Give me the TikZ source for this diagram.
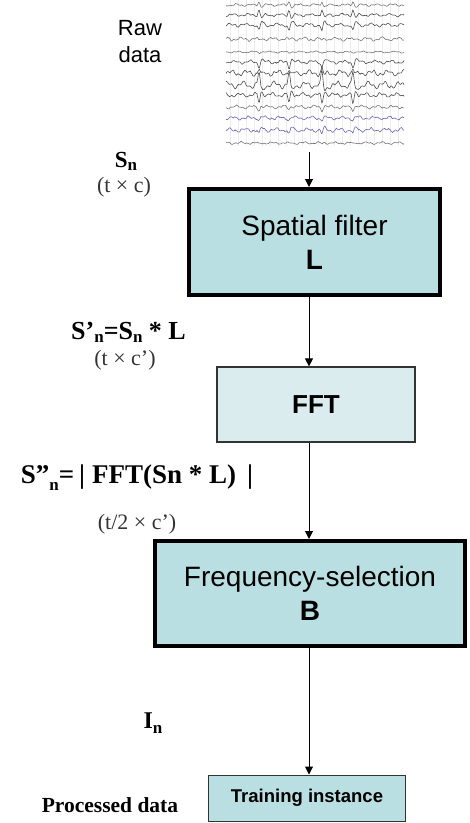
\documentclass[tikz,border=0pt]{standalone}
\usepackage{fontspec}
\setmainfont{Liberation Serif}
\setsansfont{Liberation Sans}
\usetikzlibrary{arrows.meta}

\definecolor{boxfill}{HTML}{B9DFE2}
\definecolor{boxlight}{HTML}{DAECEE}
\definecolor{eeggray}{HTML}{767676}
\definecolor{eegdark}{HTML}{4E4E4E}
\definecolor{eegblue}{RGB}{105,105,190}
\definecolor{dimtext}{HTML}{333333}

% lowered subscript used in the formula labels
\newcommand\lowsub[2][5pt]{\raisebox{-#1}{\fontsize{17}{17}\selectfont #2}}

\begin{document}
\begin{tikzpicture}[x=1pt,y=-1pt,
  declare function={pk(\q)=max(0,1-abs(\q)/2)-0.45*max(0,1-abs(\q-3)/3);
                     spikes(\q)=pk(\q-259)+pk(\q-289)+pk(\q-322)+pk(\q-353);},
  thickbox/.style={draw=black,line width=4pt,fill=boxfill,inner sep=0pt,
                   font=\sffamily\fontsize{28}{34}\selectfont,align=center},
  thinbox/.style={draw=dimtext,line width=1.2pt,inner sep=0pt,align=center},
  flow/.style={draw=black,line width=1pt,-{Triangle[length=8pt,width=8pt]}},
  formula/.style={anchor=base,inner sep=0pt,font=\bfseries\fontsize{26}{30}\selectfont},
  dims/.style={anchor=base,inner sep=0pt,text=dimtext,font=\fontsize{22}{26}\selectfont},
  trace/.style={line width=0.6pt,line join=round}]

\useasboundingbox (0,0) rectangle (470,823);

% ---- raw recording: faint chart grid and channel traces ----
\foreach \gx in {230,238,...,404}
  \draw[black!7,line width=0.4pt] (\gx,0) -- (\gx,146);
\pgfmathsetseed{11}
\foreach \yc/\col/\amp/\noi/\wob in {
   5/eeggray/-4/0.4/0.8,
  15/eegdark/-6/0.4/1.0,
  25/eegdark/7/0.4/1.2,
  39/eeggray/2/0.5/1.3,
  52/eeggray/1/0.3/0.6,
  62/eegdark/6/0.5/1.2,
  73/eegdark/-5/0.6/2.0,
  85/eegdark/-14/0.5/2.5,
  95/eegdark/9/0.5/1.5,
 107/eeggray/3/0.5/1.2,
 118/eegblue/2/0.6/1.2,
 130/eegblue/5/0.6/1.4,
 143/eeggray/1/0.4/0.8}
  \draw[trace,\col] plot[domain=226:404,samples=220,variable=\xx]
     (\xx,{\yc + \noi*rand + \wob*sin((\xx-226)*23+\yc*7) + 0.6*\wob*sin((\xx-226)*61+\yc*3) + \amp*spikes(\xx)});

\node[inner sep=0pt,minimum width=178pt,minimum height=152pt] (raw) at (315,76) {};
\node[inner sep=0pt,align=center,font=\sffamily\fontsize{22}{27}\selectfont] (rawlbl) at (140,42) {Raw\\data};

% ---- processing chain ----
\coordinate (axis) at (309,0);

\node[thickbox,minimum width=251pt,minimum height=106pt] (spatial) at (314.5,242)
  {Spatial filter\\\textbf{L}};
\node[thinbox,fill=boxlight,minimum width=198pt,minimum height=75pt,
      font=\sffamily\bfseries\fontsize{26}{30}\selectfont] (fft) at (316,404.5) {FFT};
\node[thickbox,minimum width=310pt,minimum height=105pt] (freq) at (310,593.5)
  {Frequency-selection\\\textbf{B}};
\node[thinbox,fill=boxfill,line width=1pt,minimum width=197pt,minimum height=46pt,
      font=\sffamily\bfseries\fontsize{18.5}{22}\selectfont] (train) at (307,798) {Training instance};

\draw[flow] (raw.south -| axis) -- (spatial.north -| axis);
\draw[flow] (spatial.south -| axis) -- (fft.north -| axis);
\draw[flow] (fft.south -| axis) -- (freq.north -| axis);
\draw[flow] (freq.south -| axis) -- (train.north -| axis);

% ---- signal labels ----
\node[formula,font=\bfseries\fontsize{23}{27}\selectfont] (sn) at (126,167) {S\lowsub[3pt]{n}};
\node[dims] (sndim) at (124,192) {(t × c)};
\node[formula] (spn) at (128.5,339) {S’\lowsub[3pt]{n}=S\lowsub[3pt]{n} * L};
\node[dims] (spndim) at (125,365) {(t × c’)};
\node[formula,font=\bfseries\fontsize{27}{31}\selectfont] (sppn) at (137,483)
  {S”\lowsub[7pt]{n}=\hspace{5pt}|\hspace{7pt}FFT(Sn * L)\hspace{11pt}|};
\node[dims] (sppndim) at (137,529) {(t/2 × c’)};
\node[formula,font=\bfseries\fontsize{24}{28}\selectfont] (in) at (153,728) {I\lowsub[5pt]{n}};
\node[formula,font=\bfseries\fontsize{21.5}{25}\selectfont] (proc) at (110,812) {Processed data};

\end{tikzpicture}
\end{document}
